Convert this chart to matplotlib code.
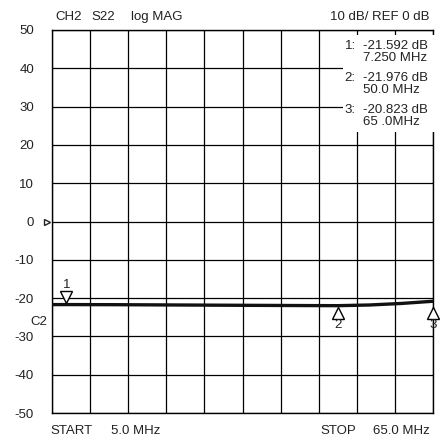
import matplotlib
matplotlib.use('Agg')
import matplotlib.pyplot as plt
from matplotlib.patches import Rectangle

plt.rcParams['font.family'] = ['Liberation Sans', 'DejaVu Sans']

# trace data
freq = [5.0, 7.25, 15.0, 25.0, 35.0, 45.0, 50.0, 55.0, 60.0, 65.0]
mag = [-21.7, -21.692, -21.72, -21.8, -21.88, -21.95, -21.976, -21.8, -21.4, -20.823]

mk_num = ['1', '2', '3']
mk_freq = [7.25, 50.0, 65.0]
mk_mag = [-21.592, -21.976, -20.823]
mk_freq_txt = ['7.250 MHz', '50.0 MHz', '65 .0MHz']

yticks = list(range(-50, 51, 10))
xticks = [5 + 6 * i for i in range(11)]

W, H = 442, 441
fig = plt.figure(figsize=(W / 100, H / 100), dpi=100)
ax = fig.add_axes([52 / W, (H - 413) / H, 381 / W, 383 / H])
ax.set_xlim(5, 65)
ax.set_ylim(-50, 50)
ax.set_xticks(xticks)
ax.set_xticklabels([])
ax.set_yticks(yticks)
ax.set_yticklabels([str(v) for v in yticks], fontsize=9.5, color='#222')
ax.tick_params(length=0, pad=13)
ax.grid(True, color='black', lw=0.9)
for s in ax.spines.values():
    s.set_color('black')
    s.set_linewidth(1.0)

ax.plot(freq, mag, color='#111', lw=2.4, zorder=4, solid_capstyle='butt')

# marker readout box
ax.add_patch(Rectangle((50.8, 23.4), 14.5, 25.4, facecolor='white', edgecolor='none',
                       zorder=5, clip_on=False))
for i in range(3):
    y0 = 50 - (46 - 30 + 32 * i) / 3.83
    ax.text(51.1, y0, mk_num[i] + ':', fontsize=9.5, color='#222', va='center', zorder=6)
    ax.text(54.0, y0, '%.3f dB' % mk_mag[i], fontsize=9.5, color='#222', va='center', zorder=6)
    ax.text(54.0, y0 - 12 / 3.83, mk_freq_txt[i], fontsize=9.5, color='#222', va='center', zorder=6)

# markers on trace
ax.plot(mk_freq[0], -19.7, marker='v', ms=9, mfc='white', mec='black', mew=1.0, zorder=6)
ax.text(mk_freq[0], -16.6, mk_num[0], fontsize=9.5, ha='center', va='center', color='#222', zorder=6)
for i in (1, 2):
    ax.plot(mk_freq[i], -23.9, marker='^', ms=9, mfc='white', mec='black', mew=1.0,
            zorder=6, clip_on=False)
    ax.text(mk_freq[i], -27.0, mk_num[i], fontsize=9.5, ha='center', va='center', color='#222', zorder=6,
            clip_on=False)

# reference arrow at 0 dB
ax.plot(4.2, 0, marker='>', ms=4.5, mfc='white', mec='#222', mew=1.0, clip_on=False, zorder=6)
ax.text(4.2, -26.2, 'C2', fontsize=9.5, color='#222', ha='right', va='center')

# header / footer
fig.text(55 / W, 1 - 17 / H, 'CH2', fontsize=9.5, color='#222', va='center')
fig.text(91 / W, 1 - 17 / H, 'S22', fontsize=9.5, color='#222', va='center')
fig.text(131 / W, 1 - 17 / H, 'log MAG', fontsize=9.5, color='#222', va='center')
fig.text(430 / W, 1 - 17 / H, '10 dB/ REF 0 dB', fontsize=9.5, color='#222', va='center', ha='right')
fig.text(50 / W, 1 - 431 / H, 'START', fontsize=9.5, color='#222', va='center')
fig.text(111 / W, 1 - 431 / H, '5.0 MHz', fontsize=9.5, color='#222', va='center')
fig.text(320 / W, 1 - 431 / H, 'STOP', fontsize=9.5, color='#222', va='center')
fig.text(373 / W, 1 - 431 / H, '65.0 MHz', fontsize=9.5, color='#222', va='center')

fig.savefig('out.png', dpi=100)
